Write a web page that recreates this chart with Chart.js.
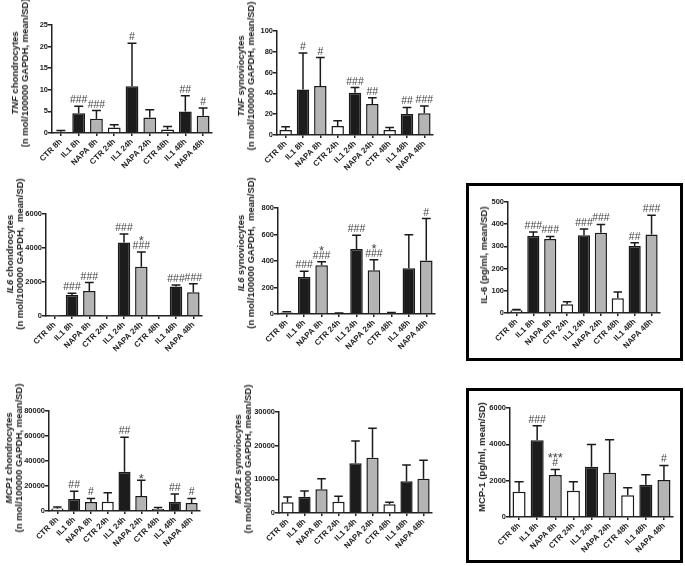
<!DOCTYPE html>
<html>
<head>
<meta charset="utf-8">
<script src="https://cdn.jsdelivr.net/npm/chart.js@4.4.0/dist/chart.umd.min.js"></script>
<style>
body { margin:0; background:#fff; width:685px; height:566px; position:relative; overflow:hidden; font-family:'Liberation Sans', Arial, sans-serif; }
.panel { position:absolute; }
.ytitle { position:absolute; transform:translate(-50%,-50%) rotate(-90deg); white-space:nowrap; text-align:center; font-weight:bold; font-size:9.5px; line-height:10px; color:#222; }
.box { position:absolute; border:3px solid #000; box-sizing:border-box; }
</style>
</head>
<body>
<div class="box" style="left:466px; top:183px; width:217px; height:178px;"></div>
<div class="box" style="left:466px; top:388px; width:217px; height:175px;"></div>
<script>
const categorias = ['CTR 8h','IL1 8h','NAPA 8h','CTR 24h','IL1 24h','NAPA 24h','CTR 48h','IL1 48h','NAPA 48h'];
const coloresBarra = ['#ffffff','#1c1c1c','#b4b4b4','#ffffff','#1c1c1c','#b4b4b4','#ffffff','#1c1c1c','#b4b4b4'];

// TNF condrocitos
const tnfCondroMedia = [0.3, 4.6, 3.3, 1.3, 10.8, 3.6, 0.8, 5.0, 4.0];
const tnfCondroSd = [0.3, 1.6, 1.9, 0.6, 10.0, 1.8, 0.7, 3.6, 1.8];
const tnfCondroSig = [[], ['###'], ['###'], [], ['#'], [], [], ['##'], ['#']];
const tnfCondroTicks = [0, 5, 10, 15, 20, 25];

// TNF sinoviocitos
const tnfSinoMedia = [4.8, 43.8, 47, 8.6, 40.6, 29.7, 4.8, 20.1, 20.8];
const tnfSinoSd = [3.2, 35, 27.5, 5, 5, 6, 2.5, 6.4, 7];
const tnfSinoSig = [[], ['#'], ['#'], [], ['###'], ['##'], [], ['##'], ['###']];
const tnfSinoTicks = [0, 20, 40, 60, 80, 100];

// IL6 condrocitos
const il6CondroMedia = [5, 1240, 1475, 20, 4330, 2890, 40, 1730, 1400];
const il6CondroSd = [0, 100, 490, 0, 490, 870, 0, 100, 490];
const il6CondroSig = [[], ['###'], ['###'], [], ['###'], ['*', '###'], [], ['###'], ['###']];
const il6CondroTicks = [0, 2000, 4000, 6000];

// IL6 sinoviocitos
const il6SinoMedia = [12, 280, 367, 5, 490, 330, 8, 345, 403];
const il6SinoSd = [5, 42, 28, 2, 104, 80, 3, 254, 317];
const il6SinoSig = [[], ['###'], ['*', '###'], [], ['###'], ['*', '###'], [], [], ['#']];
const il6SinoTicks = [0, 200, 400, 600, 800];

// IL-6 proteina
const il6ProtMedia = [12, 347, 333, 39, 350, 362, 66, 302, 354];
const il6ProtSd = [4, 18, 12, 12, 28, 37, 29, 15, 86];
const il6ProtSig = [[], ['###'], ['###'], [], ['###'], ['###'], [], ['##'], ['###']];
const il6ProtTicks = [0, 100, 200, 300, 400, 500];

// MCP1 condrocitos
const mcpCondroMedia = [2100, 9600, 7200, 7400, 31400, 12000, 1600, 7400, 6400];
const mcpCondroSd = [1100, 6300, 2900, 7200, 27600, 12700, 1300, 6200, 3700];
const mcpCondroSig = [[], ['##'], ['#'], [], ['##'], ['*'], [], ['##'], ['#']];
const mcpCondroTicks = [0, 20000, 40000, 60000, 80000];

// MCP1 sinoviocitos
const mcpSinoMedia = [3170, 4850, 7030, 3370, 14750, 16400, 2570, 9400, 10200];
const mcpSinoSd = [1600, 1680, 3170, 1580, 6650, 8750, 600, 4850, 5440];
const mcpSinoSig = [[], [], [], [], [], [], [], [], []];
const mcpSinoTicks = [0, 10000, 20000, 30000];

// MCP-1 proteina
const mcpProtMedia = [1385, 4230, 2310, 1440, 2770, 2440, 1200, 1770, 2030];
const mcpProtSd = [555, 790, 310, 500, 1220, 1810, 410, 560, 810];
const mcpProtSig = [[], ['###'], ['***', '#'], [], [], [], [], [], ['#']];
const mcpProtTicks = [0, 2000, 4000, 6000];

const fuente = "'Liberation Sans', Arial, sans-serif";

const paneles = [
    { area:[52,25,212,133], titulo:['<i>TNF</i> chondrocytes','(n mol/100000 GAPDH, mean/SD)'], posTitulo:[20,73],
      media:tnfCondroMedia, sd:tnfCondroSd, sig:tnfCondroSig, ticks:tnfCondroTicks },
    { area:[277,31,433,135], titulo:['<i>TNF</i> synoviocytes','(n mol/100000 GAPDH, mean/SD)'], posTitulo:[246,76],
      media:tnfSinoMedia, sd:tnfSinoSd, sig:tnfSinoSig, ticks:tnfSinoTicks },
    { area:[46,214,202,316], titulo:['<i>IL6</i> chondrocytes','(n mol/100000 GAPDH,&nbsp; mean/SD)'], posTitulo:[15,254],
      media:il6CondroMedia, sd:il6CondroSd, sig:il6CondroSig, ticks:il6CondroTicks },
    { area:[278,208,435,314], titulo:['<i>IL6</i> synoviocytes','(n mol/100000 GAPDH,&nbsp; mean/SD)'], posTitulo:[246,253],
      media:il6SinoMedia, sd:il6SinoSd, sig:il6SinoSig, ticks:il6SinoTicks },
    { area:[508,202,660,313], titulo:['IL-6 (pg/ml, mean/SD)'], posTitulo:[484,255],
      media:il6ProtMedia, sd:il6ProtSd, sig:il6ProtSig, ticks:il6ProtTicks },
    { area:[49,411,200,511], titulo:['<i>MCP1</i> chondrocytes','(n mol/100000 GAPDH, mean/SD)'], posTitulo:[14,458],
      media:mcpCondroMedia, sd:mcpCondroSd, sig:mcpCondroSig, ticks:mcpCondroTicks },
    { area:[279,412,432,513], titulo:['<i>MCP1</i> synoviocytes','(n mol/100000 GAPDH, mean/SD)'], posTitulo:[243,459],
      media:mcpSinoMedia, sd:mcpSinoSd, sig:mcpSinoSig, ticks:mcpSinoTicks },
    { area:[510,408,673,517], titulo:['MCP-1 (pg/ml, mean/SD)'], posTitulo:[482,457],
      media:mcpProtMedia, sd:mcpProtSd, sig:mcpProtSig, ticks:mcpProtTicks },
];

// barras de error (solo hacia arriba) y marcas de significancia
const barrasError = {
    id: 'barrasError',
    afterDatasetsDraw(chart) {
        const ctx = chart.ctx;
        const ds = chart.data.datasets[0];
        const yScale = chart.scales.y;
        const meta = chart.getDatasetMeta(0);
        ctx.save();
        ctx.strokeStyle = '#1a1a1a';
        ctx.lineWidth = 1.5;
        ctx.fillStyle = '#444';
        ctx.textAlign = 'center';
        ctx.textBaseline = 'alphabetic';
        meta.data.forEach((bar, i) => {
            const sd = ds.sd[i];
            const yTop = yScale.getPixelForValue(ds.data[i] + sd);
            if (sd > 0) {
                const cap = bar.width * 0.35;
                ctx.beginPath();
                ctx.moveTo(bar.x, bar.y);
                ctx.lineTo(bar.x, yTop);
                ctx.moveTo(bar.x - cap, yTop);
                ctx.lineTo(bar.x + cap, yTop);
                ctx.stroke();
            }
            const marcas = ds.sig[i];
            let yTexto = yTop - 3;
            for (let k = marcas.length - 1; k >= 0; k--) {
                if (marcas[k].startsWith('*')) {
                    ctx.font = '13px ' + fuente;
                    ctx.fillText(marcas[k], bar.x, yTexto + 6);
                } else {
                    ctx.font = '10.5px ' + fuente;
                    ctx.fillText(marcas[k], bar.x, yTexto);
                }
                yTexto -= 10;
            }
        });
        ctx.restore();
    }
};

function CrearPanel(p) {
    const [x0, y0, x1, y1] = p.area;
    const izq = 40, arriba = 8, der = 6, abajo = 56;
    const div = document.createElement('div');
    div.className = 'panel';
    div.style.left = (x0 - izq) + 'px';
    div.style.top = (y0 - arriba) + 'px';
    const canvas = document.createElement('canvas');
    canvas.width = x1 - x0 + izq + der;
    canvas.height = y1 - y0 + arriba + abajo;
    div.appendChild(canvas);
    document.body.appendChild(div);

    const titulo = document.createElement('div');
    titulo.className = 'ytitle';
    titulo.style.left = p.posTitulo[0] + 'px';
    titulo.style.top = p.posTitulo[1] + 'px';
    titulo.innerHTML = p.titulo.join('<br>');
    document.body.appendChild(titulo);

    new Chart(canvas, {
        type: 'bar',
        data: {
            labels: categorias,
            datasets: [{
                data: p.media,
                sd: p.sd,
                sig: p.sig,
                backgroundColor: coloresBarra,
                borderColor: '#1a1a1a',
                borderWidth: 1.5,
                barPercentage: 0.72,
                categoryPercentage: 1
            }]
        },
        options: {
            responsive: false,
            animation: false,
            devicePixelRatio: 1,
            layout: { padding: { top: arriba, right: der, left: 0, bottom: 0 } },
            plugins: { legend: { display: false }, tooltip: { enabled: false } },
            scales: {
                x: {
                    grid: { display: true, drawOnChartArea: false, offset: false, tickLength: 3, color: '#222', lineWidth: 1.5 },
                    border: { color: '#222', width: 1.5 },
                    ticks: { autoSkip: false, minRotation: 45, maxRotation: 45, padding: 1, color: '#222',
                             font: { size: 8, weight: 'bold', family: fuente } },
                    afterFit: (a) => { a.height = abajo; }
                },
                y: {
                    min: p.ticks[0],
                    max: p.ticks[p.ticks.length - 1],
                    grid: { display: true, drawOnChartArea: false, tickLength: 4, color: '#222', lineWidth: 1.5 },
                    border: { color: '#222', width: 1.5 },
                    ticks: { stepSize: p.ticks[1] - p.ticks[0], padding: 0, color: '#222',
                             font: { size: 7.5, weight: 'bold', family: fuente },
                             callback: (v) => String(v) },
                    afterFit: (a) => { a.width = izq; }
                }
            }
        },
        plugins: [barrasError]
    });
}

paneles.forEach(CrearPanel);
</script>
</body>
</html>
